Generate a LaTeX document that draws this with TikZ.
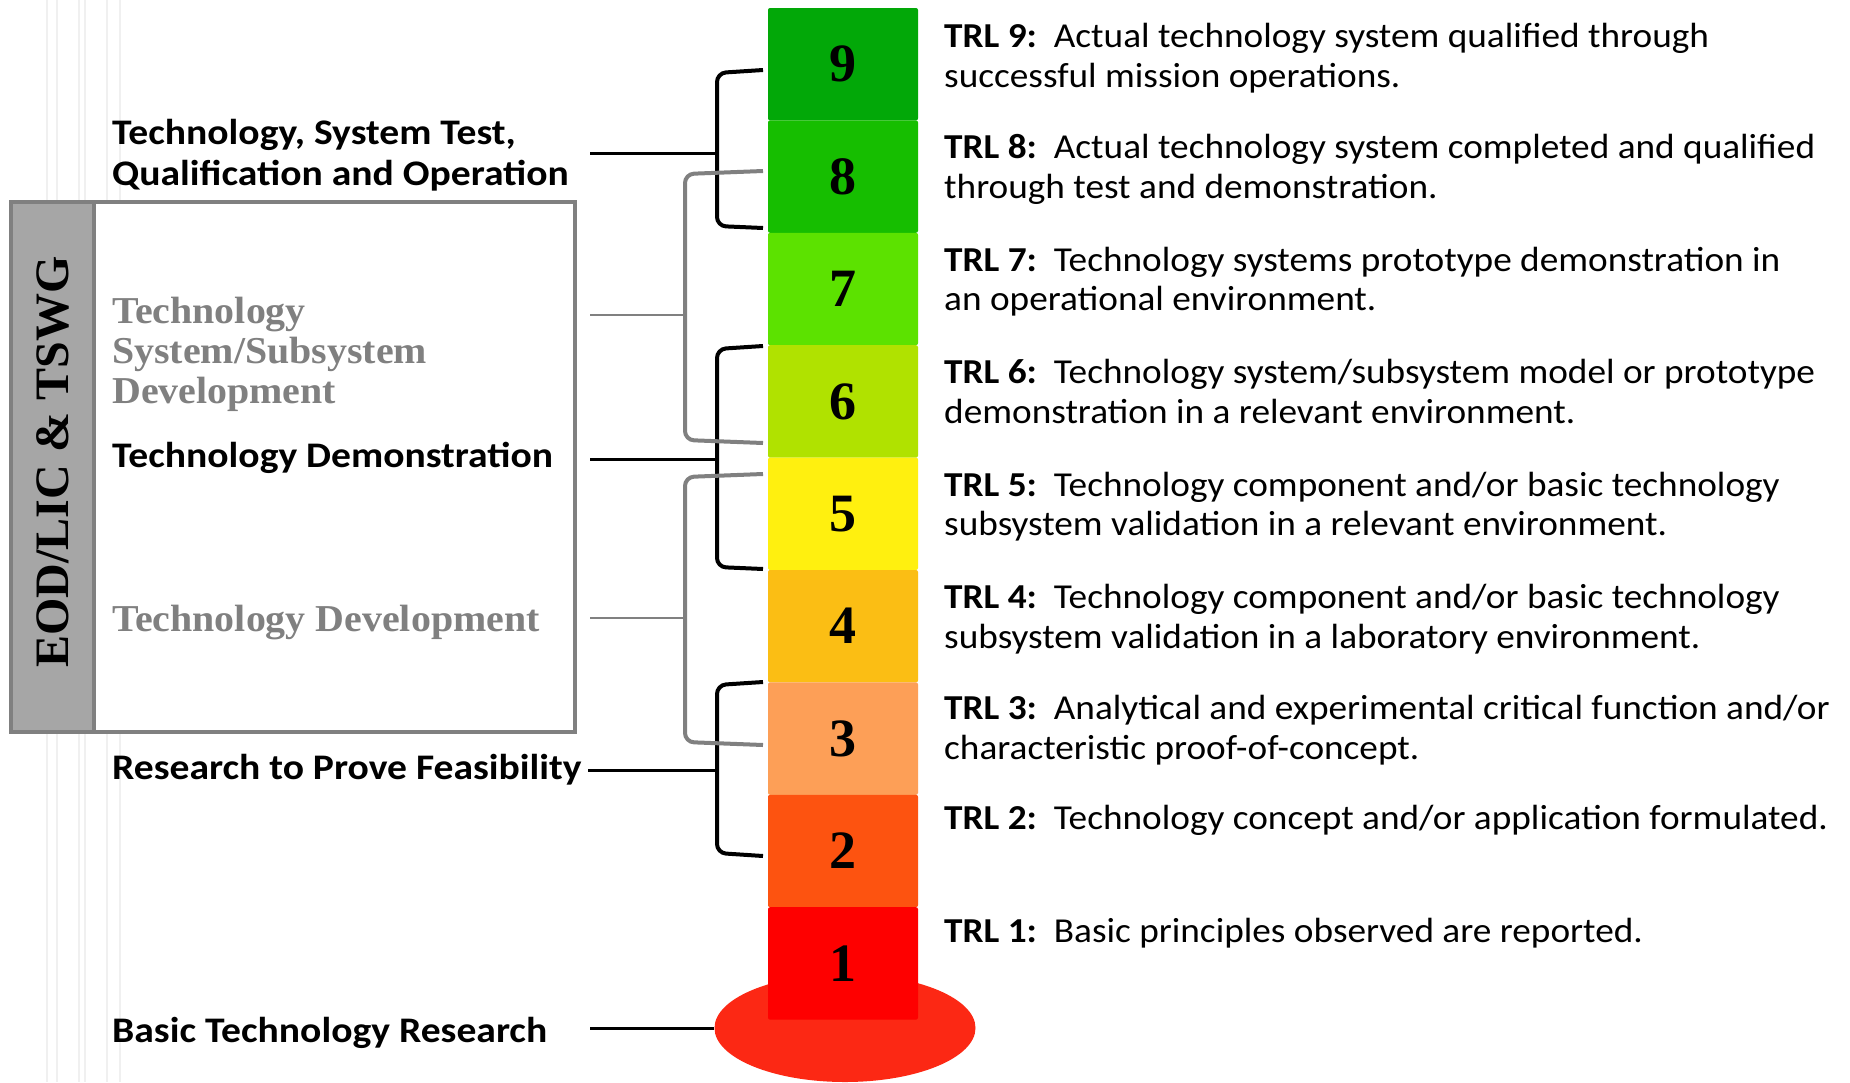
\documentclass[tikz,border=0pt]{standalone}
\usepackage{fontspec}
\setmainfont{Liberation Serif}
\newfontfamily\calib[FakeStretch=1.065]{Carlito}
\newfontfamily\calibw[FakeStretch=1.1]{Carlito}
\newfontfamily\serifw[FakeStretch=1.05]{Liberation Serif}
\usepackage{tikz}
\usetikzlibrary{positioning, shapes.geometric, calc}

\definecolor{trlnine}{HTML}{02A808}
\definecolor{trleight}{HTML}{16BE00}
\definecolor{trlseven}{HTML}{5CE200}
\definecolor{trlsix}{HTML}{B0E200}
\definecolor{trlfive}{HTML}{FFF00F}
\definecolor{trlfour}{HTML}{FBBE14}
\definecolor{trlthree}{HTML}{FD9F57}
\definecolor{trltwo}{HTML}{FD5310}
\definecolor{trlone}{HTML}{FE0000}
\definecolor{basered}{HTML}{FC2814}
\definecolor{frgray}{HTML}{808080}
\definecolor{stripgray}{HTML}{A6A6A6}

\begin{document}
\begin{tikzpicture}[
    x=1pt, y=-1pt,
    lvl/.style={minimum width=150pt, minimum height=112.4pt, inner sep=0pt, outer sep=0pt, rounded corners=2pt, font=\bfseries\fontsize{54}{54}\selectfont},
    desc/.style={anchor=base west, align=left, inner sep=0pt, font=\calib\fontsize{35}{39.5}\selectfont},
    phase/.style={anchor=base west, align=left, inner sep=0pt, font=\calibw\bfseries\fontsize{36}{41}\selectfont},
    devlbl/.style={anchor=base west, align=left, inner sep=0pt, text=frgray, font=\serifw\bfseries\fontsize{38}{40}\selectfont},
    brk/.style={line width=4pt, rounded corners=9pt},
    gbrk/.style={brk, draw=frgray},
    stem/.style={line width=3pt},
    gstem/.style={line width=2.5pt, draw=frgray},
]
\useasboundingbox (0,0) rectangle (1850,1082);
\fill[white] (0,0) rectangle (1850,1082);

% faint slide background lines
\draw[black!6, line width=1.5pt] (47,0) -- (47,1082) (57,0) -- (57,1082) (79,0) -- (79,1082)
    (85,0) -- (85,1082) (107,0) -- (107,1082) (120,0) -- (120,1082);

% group frame
\draw[line width=4pt, draw=frgray, fill=white] (11,202) rectangle (575,732);
\draw[line width=4pt, draw=frgray, fill=stripgray] (11,202) rectangle (94,732);
\node[rotate=90, font=\bfseries\fontsize{48}{48}\selectfont] (eod) at (53,462) {EOD/LIC \& TSWG};

% thermometer
\node[ellipse, fill=basered, minimum width=261pt, minimum height=108pt, inner sep=0pt] (base) at (845,1028) {};
\node[lvl, fill=trlnine] (t9) at (843,64.2) {9};
\node[lvl, fill=trleight, below=0pt of t9] (t8) {8};
\node[lvl, fill=trlseven, below=0pt of t8] (t7) {7};
\node[lvl, fill=trlsix, below=0pt of t7] (t6) {6};
\node[lvl, fill=trlfive, below=0pt of t6] (t5) {5};
\node[lvl, fill=trlfour, below=0pt of t5] (t4) {4};
\node[lvl, fill=trlthree, below=0pt of t4] (t3) {3};
\node[lvl, fill=trltwo, below=0pt of t3] (t2) {2};
\node[lvl, fill=trlone, below=0pt of t2] (t1) {1};

% level descriptions (base = last line)
\node[desc] (d9) at ([xshift=26pt, yshift=-79pt]t9.north east) {\textbf{TRL 9:}\ \ Actual technology system qualified through\\successful mission operations.};
\node[desc] (d8) at ([xshift=26pt, yshift=-78pt]t8.north east) {\textbf{TRL 8:}\ \ Actual technology system completed and qualified\\through test and demonstration.};
\node[desc] (d7) at ([xshift=26pt, yshift=-78pt]t7.north east) {\textbf{TRL 7:}\ \ Technology systems prototype demonstration in\\an operational environment.};
\node[desc] (d6) at ([xshift=26pt, yshift=-78pt]t6.north east) {\textbf{TRL 6:}\ \ Technology system/subsystem model or prototype\\demonstration in a relevant environment.};
\node[desc] (d5) at ([xshift=26pt, yshift=-78pt]t5.north east) {\textbf{TRL 5:}\ \ Technology component and/or basic technology\\subsystem validation in a relevant environment.};
\node[desc] (d4) at ([xshift=26pt, yshift=-78pt]t4.north east) {\textbf{TRL 4:}\ \ Technology component and/or basic technology\\subsystem validation in a laboratory environment.};
\node[desc] (d3) at ([xshift=26pt, yshift=-77pt]t3.north east) {\textbf{TRL 3:}\ \ Analytical and experimental critical function and/or\\characteristic proof-of-concept.};
\node[desc] (d2) at ([xshift=26pt, yshift=-35pt]t2.north east) {\textbf{TRL 2:}\ \ Technology concept and/or application formulated.};
\node[desc] (d1) at ([xshift=26pt, yshift=-35pt]t1.north east) {\textbf{TRL 1:}\ \ Basic principles observed are reported.};

% phase labels (base = last line)
\node[phase] (ops) at (112,185) {Technology, System Test,\\Qualification and Operation};
\node[devlbl] (sysdev) at (112,403) {Technology\\System/Subsystem\\Development};
\node[phase] (demo) at (112,467) {Technology Demonstration};
\node[devlbl] (techdev) at (112,631) {Technology Development};
\node[phase] (feas) at (112,779) {Research to Prove Feasibility};
\node[phase] (basic) at (112,1042) {Basic Technology Research};

% stem ends
\coordinate (sops) at (590,153);   \coordinate (jops) at (717,153);
\coordinate (ssys) at (590,315);   \coordinate (jsys) at (685,315);
\coordinate (sdemo) at (590,459);  \coordinate (jdemo) at (717,459);
\coordinate (stech) at (590,618);  \coordinate (jtech) at (685,618);
\coordinate (sfeas) at (588,770);  \coordinate (jfeas) at (717,770);
\coordinate (sbasic) at (590,1028);

% black brackets
\draw[brk] (763,70) -- (717,73) -- (717,226) -- (763,228);
\draw[brk] (763,346) -- (717,349) -- (717,567) -- (763,569);
\draw[brk] (763,682) -- (717,685) -- (717,853) -- (763,856);
\draw[stem] (sops) -- (jops);
\draw[stem] (sdemo) -- (jdemo);
\draw[stem] (sfeas) -- (jfeas);
\draw[stem] (sbasic) -- (base.west);

% gray brackets
\draw[gbrk] (763,171) -- (685,174) -- (685,440) -- (763,443);
\draw[gbrk] (763,474) -- (685,477) -- (685,742) -- (763,745);
\draw[gstem] (ssys) -- (jsys);
\draw[gstem] (stech) -- (jtech);

\end{tikzpicture}
\end{document}
